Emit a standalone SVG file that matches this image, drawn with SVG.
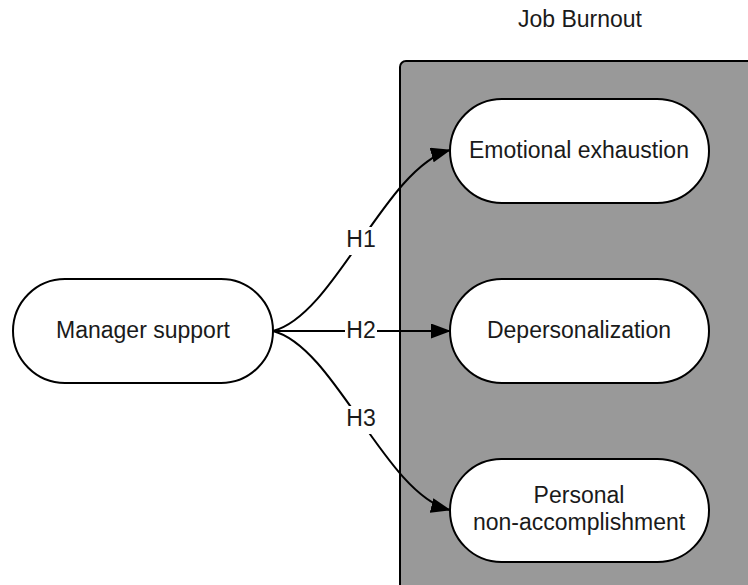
<svg xmlns="http://www.w3.org/2000/svg" width="748" height="585" viewBox="0 0 748 585">
<style>
text{font-family:"Liberation Sans",Arial,sans-serif;font-size:23px;fill:#1a1a1a;text-anchor:middle}
.node{fill:#fff;stroke:#000;stroke-width:2}
.edge{fill:none;stroke:#000;stroke-width:2}
.lbl{fill:#fff}
</style>
<defs>
<marker id="arr" markerWidth="20" markerHeight="15" refX="19" refY="7.5" orient="auto" markerUnits="userSpaceOnUse">
<path d="M0,0 L20,7.5 L0,15 Z" fill="#000"/>
</marker>
</defs>
<rect width="748" height="585" fill="#fff"/>
<g id="job-burnout">
<rect x="400" y="61" width="360" height="540" rx="6" fill="#999999" stroke="#000" stroke-width="2"/>
<text x="580" y="27">Job Burnout</text>
</g>
<g id="connectors">
<path class="edge" d="M273,331 C335,315 385,168 450,150" marker-end="url(#arr)"/>
<path class="edge" d="M273,331 L450,331" marker-end="url(#arr)"/>
<path class="edge" d="M273,331 C335,347 385,494 450,510" marker-end="url(#arr)"/>
<rect class="lbl" x="345" y="227" width="32" height="28"/>
<text x="361" y="247">H1</text>
<rect class="lbl" x="345" y="318" width="32" height="26"/>
<text x="361" y="338">H2</text>
<rect class="lbl" x="345" y="406" width="32" height="28"/>
<text x="361" y="426">H3</text>
</g>
<g id="manager-support">
<rect class="node" x="13" y="279" width="260" height="104" rx="52"/>
<text x="143" y="338">Manager support</text>
</g>
<g id="emotional-exhaustion">
<rect class="node" x="450" y="99" width="259" height="104" rx="52"/>
<text x="579" y="158">Emotional exhaustion</text>
</g>
<g id="depersonalization">
<rect class="node" x="450" y="279" width="259" height="104" rx="52"/>
<text x="579" y="338">Depersonalization</text>
</g>
<g id="personal-non-accomplishment">
<rect class="node" x="450" y="459" width="259" height="103" rx="51.5"/>
<text x="579" y="503">Personal</text>
<text x="579" y="530">non-accomplishment</text>
</g>
</svg>
